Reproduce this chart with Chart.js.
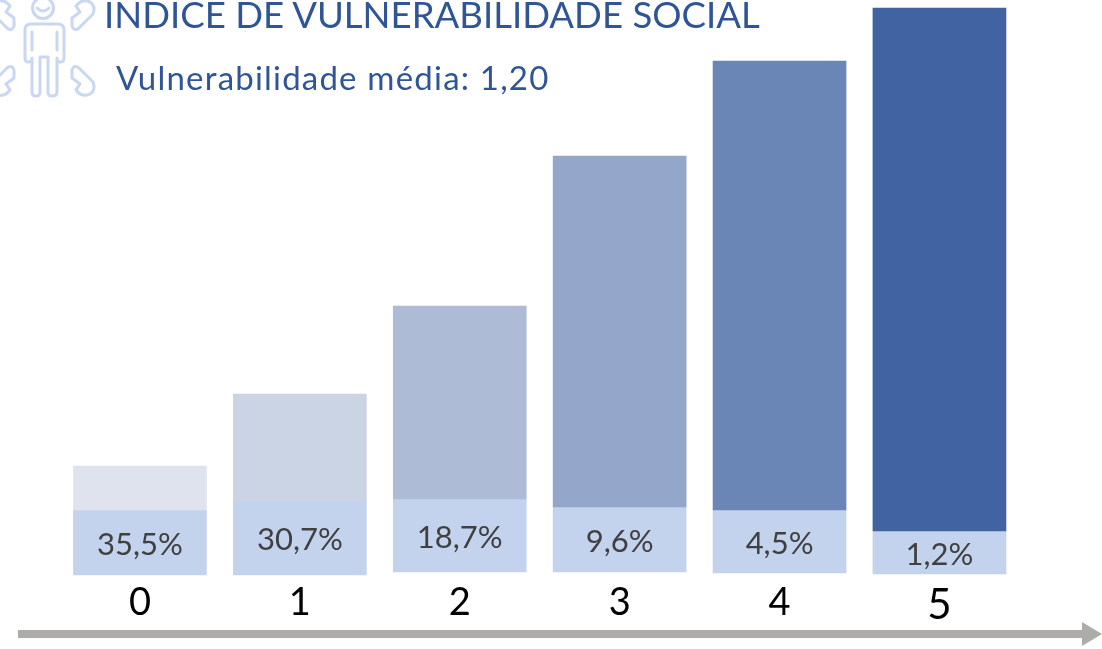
<!DOCTYPE html>
<html lang="pt"><head><meta charset="utf-8">
<style>
html,body{margin:0;padding:0;background:#fff;overflow:hidden}
#wrap{position:relative;width:1102px;height:649px;overflow:hidden}
canvas{position:absolute;left:0;top:0}
svg{position:absolute;left:0;top:0}
.t{position:absolute;color:#2F5597;font-family:Lato,sans-serif;white-space:nowrap;line-height:1}
#title{left:104px;top:-4px;font-size:36.6px;letter-spacing:0}
#sub{left:116px;top:61px;font-size:33px;letter-spacing:1.2px}
</style></head><body>
<div id="wrap">
<canvas id="c" width="1102" height="649"></canvas>
<svg width="1102" height="649" fill="none">
 <g stroke="#C9D8F0" stroke-width="3" stroke-linejoin="round" stroke-linecap="round">
  <circle cx="43" cy="8" r="10.5"/>
  <path d="M37 8Q43 14 49 8"/>
  <path d="M31 24H58Q64 24 64 30V58Q64 62 60 62Q57 62 57 58V92Q57 96 52 96Q48 96 48 92V57H40V92Q40 96 36 96Q32 96 32 92V58Q32 62 28 62Q25 62 25 58V30Q25 24 31 24Z"/>
  <path d="M32 32V50M57 32V50"/>
  <path d="M72 70Q74 64 79 68L93 82Q96 90 90 94Q82 98 76 90L80 84L72 78Z"/>
  <path transform="matrix(-1 0 0 1 86 0)" d="M72 70Q74 64 79 68L93 82Q96 90 90 94Q82 98 76 90L80 84L72 78Z"/>
  <path transform="matrix(1 0 0 -1 0 96)" d="M72 70Q74 64 79 68L93 82Q96 90 90 94Q82 98 76 90L80 84L72 78Z"/>
  <path transform="matrix(-1 0 0 -1 86 96)" d="M72 70Q74 64 79 68L93 82Q96 90 90 94Q82 98 76 90L80 84L72 78Z"/>
 </g>
 <path fill="#AEACA9" d="M18 630H1082V622L1102 634L1082 646V638H18Z"/>
</svg>
<div class="t" id="title">ÍNDICE DE VULNERABILIDADE SOCIAL</div>
<div class="t" id="sub">Vulnerabilidade média: 1,20</div>
</div>
<script src="https://cdn.jsdelivr.net/npm/chart.js@4"></script>
<script>
const categories = ['0','1','2','3','4','5'];
const shareLabels = ['35,5%','30,7%','18,7%','9,6%','4,5%','1,2%'];
const boxLow  = [5,5,8,8,7,6];
const boxHigh = [70,79,81,73,70,49];
const barTop  = [114,186,274,424,519,572];
const barColors = ['#DEE3EE','#CAD4E5','#ADBBD6','#94A7CA','#6A86B6','#4163A2'];
const boxColor = '#C3D3EE';

const shareText = {
  id:'shareText',
  afterDatasetsDraw(chart){
    const {ctx} = chart;
    const meta = chart.getDatasetMeta(1);
    ctx.save();
    ctx.font = '31px Lato, sans-serif';
    ctx.fillStyle = '#404040';
    ctx.textAlign = 'center';
    ctx.textBaseline = 'middle';
    meta.data.forEach((b,i)=>{
      const p = b.getProps(['x','y','base'],true);
      ctx.fillText(shareLabels[i], p.x, (p.y+p.base)/2 + 2);
    });
    ctx.restore();
  }
};

new Chart(document.getElementById('c'),{
  type:'bar',
  data:{
    labels:categories,
    datasets:[
      {data:barTop.map((t,i)=>[boxHigh[i],t]),backgroundColor:barColors,grouped:false,barThickness:133},
      {data:boxLow.map((l,i)=>[l,boxHigh[i]]),backgroundColor:boxColor,grouped:false,barThickness:133}
    ]
  },
  options:{
    responsive:false,animation:false,
    layout:{padding:{left:60,right:82.6,top:0,bottom:0}},
    plugins:{legend:{display:false},tooltip:{enabled:false},title:{display:false}},
    scales:{
      y:{display:false,min:0,max:580},
      x:{
        grid:{display:false},border:{display:false},
        afterFit(s){s.height=69;},
        ticks:{padding:-8,color:'#000',maxRotation:0,
          font:c=>({family:'Lato, sans-serif',size:c.index===5?42:38})}
      }
    }
  },
  plugins:[shareText]
});
</script>
</body></html>
